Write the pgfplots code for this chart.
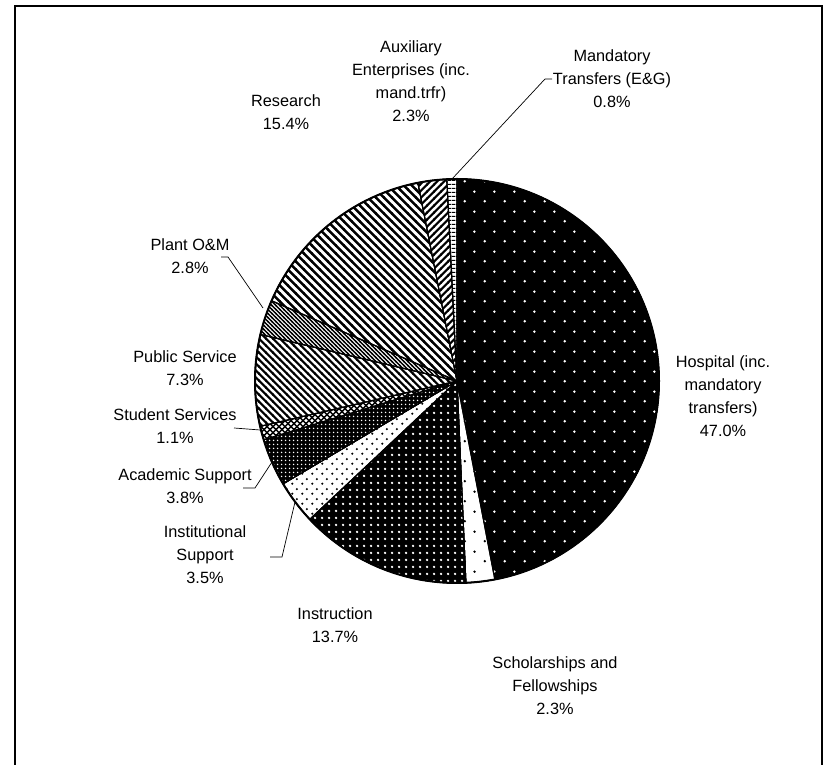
\documentclass[border=0pt]{standalone}
\usepackage{pgfplots}
\pgfplotsset{compat=1.18}
\usetikzlibrary{patterns}
\usepackage{fontspec}
\setmainfont{Liberation Sans}

% ---------- patterns ----------
\pgfdeclarepatternformonly{sparsedots}{\pgfqpoint{0bp}{0bp}}{\pgfqpoint{20bp}{20bp}}{\pgfqpoint{20bp}{20bp}}{%
 \pgfpathcircle{\pgfqpoint{5bp}{5bp}}{1.4bp}\pgfpathcircle{\pgfqpoint{15bp}{15bp}}{1.4bp}\pgfusepath{fill}}
\pgfdeclarepatternformonly{densedots}{\pgfqpoint{0bp}{0bp}}{\pgfqpoint{6.5bp}{6.5bp}}{\pgfqpoint{6.5bp}{6.5bp}}{%
 \pgfpathcircle{\pgfqpoint{3.25bp}{3.25bp}}{1.35bp}\pgfusepath{fill}}
\pgfdeclarepatternformonly{middots}{\pgfqpoint{0bp}{0bp}}{\pgfqpoint{10bp}{10bp}}{\pgfqpoint{10bp}{10bp}}{%
 \pgfpathcircle{\pgfqpoint{2.5bp}{2.5bp}}{1.3bp}\pgfpathcircle{\pgfqpoint{7.5bp}{7.5bp}}{1.3bp}\pgfusepath{fill}}
\pgfdeclarepatternformonly{finegrid}{\pgfqpoint{0bp}{0bp}}{\pgfqpoint{4bp}{4bp}}{\pgfqpoint{4bp}{4bp}}{%
 \pgfpathcircle{\pgfqpoint{2bp}{2bp}}{0.95bp}\pgfusepath{fill}}
\pgfdeclarepatternformonly{xhatch}{\pgfqpoint{-1bp}{-1bp}}{\pgfqpoint{7bp}{7bp}}{\pgfqpoint{6bp}{6bp}}{%
 \pgfsetlinewidth{1.4bp}\pgfpathmoveto{\pgfqpoint{-1bp}{-1bp}}\pgfpathlineto{\pgfqpoint{7bp}{7bp}}%
 \pgfpathmoveto{\pgfqpoint{-1bp}{7bp}}\pgfpathlineto{\pgfqpoint{7bp}{-1bp}}\pgfusepath{stroke}}
\pgfdeclarepatternformonly{nwwide}{\pgfqpoint{-1bp}{-1bp}}{\pgfqpoint{9bp}{9bp}}{\pgfqpoint{8bp}{8bp}}{%
 \pgfsetlinewidth{2.6bp}\pgfpathmoveto{\pgfqpoint{-1bp}{9bp}}\pgfpathlineto{\pgfqpoint{9bp}{-1bp}}\pgfusepath{stroke}}
\pgfdeclarepatternformonly{nwmed}{\pgfqpoint{-1bp}{-1bp}}{\pgfqpoint{8bp}{8bp}}{\pgfqpoint{7bp}{7bp}}{%
 \pgfsetlinewidth{2.2bp}\pgfpathmoveto{\pgfqpoint{-1bp}{8bp}}\pgfpathlineto{\pgfqpoint{8bp}{-1bp}}\pgfusepath{stroke}}
\pgfdeclarepatternformonly{nwfine}{\pgfqpoint{-1bp}{-1bp}}{\pgfqpoint{5bp}{5bp}}{\pgfqpoint{4bp}{4bp}}{%
 \pgfsetlinewidth{1.3bp}\pgfpathmoveto{\pgfqpoint{-1bp}{5bp}}\pgfpathlineto{\pgfqpoint{5bp}{-1bp}}\pgfusepath{stroke}}
\pgfdeclarepatternformonly{nelines}{\pgfqpoint{-1bp}{-1bp}}{\pgfqpoint{8bp}{8bp}}{\pgfqpoint{7bp}{7bp}}{%
 \pgfsetlinewidth{2.2bp}\pgfpathmoveto{\pgfqpoint{-1bp}{-1bp}}\pgfpathlineto{\pgfqpoint{8bp}{8bp}}\pgfusepath{stroke}}
\pgfdeclarepatternformonly{hdash}{\pgfqpoint{0bp}{0bp}}{\pgfqpoint{4bp}{4bp}}{\pgfqpoint{4bp}{4bp}}{%
 \pgfsetlinewidth{1.5bp}\pgfpathmoveto{\pgfqpoint{0bp}{2bp}}\pgfpathlineto{\pgfqpoint{4bp}{2bp}}\pgfusepath{stroke}}

% ---------- data: share of expenditure (%) ----------
\def\cum{0}
\foreach \p/\n in {47.0/hosp,2.3/schol,13.7/instr,3.5/inst,3.8/acad,1.1/stud,7.3/pub,2.8/plant,15.4/res,2.3/aux,0.8/mand}{%
  \pgfmathsetmacro\s{90-3.6*\cum}%
  \pgfmathsetmacro\e{90-3.6*(\cum+\p)}%
  \expandafter\xdef\csname S\n\endcsname{\s}%
  \expandafter\xdef\csname E\n\endcsname{\e}%
  \pgfmathsetmacro\c{\cum+\p}\xdef\cum{\c}%
}
\def\cx{457}\def\cy{384}\def\rr{202}
\newcommand\slice[2]{%
 \addplot[#2, draw=black, line width=1.1bp, no markers, domain=\csname E#1\endcsname:\csname S#1\endcsname, samples=90, variable=\t]
   ({\cx+\rr*cos(\t)},{\cy+\rr*sin(\t)}) -- (axis cs:\cx,\cy) -- cycle;}

\tikzset{lbl/.style={align=center, font=\fontsize{16.3bp}{23bp}\selectfont, inner sep=0pt},
 lead/.style={line width=0.7bp, black}}

\begin{document}
\begin{tikzpicture}
\begin{axis}[width=824bp,height=765bp,scale only axis,xmin=0,xmax=824,ymin=0,ymax=765,
  axis lines=none,clip=false]
\path (axis cs:0,0) rectangle (axis cs:824,765);
% frame
\draw[line width=1.3bp] (axis cs:15,0) -- (axis cs:15,759) -- (axis cs:822,759) -- (axis cs:822,0);
% slices
\slice{hosp}{fill=black, postaction={pattern=sparsedots, pattern color=white}}
\slice{schol}{fill=white, postaction={pattern=sparsedots, pattern color=black}}
\slice{instr}{fill=black, postaction={pattern=densedots, pattern color=white}}
\slice{inst}{fill=white, postaction={pattern=middots, pattern color=black}}
\slice{acad}{fill=black, postaction={pattern=finegrid, pattern color=white}}
\slice{stud}{fill=white, postaction={pattern=xhatch, pattern color=black}}
\slice{pub}{fill=white, postaction={pattern=nwmed, pattern color=black}}
\slice{plant}{fill=white, postaction={pattern=nwfine, pattern color=black}}
\slice{res}{fill=white, postaction={pattern=nwwide, pattern color=black}}
\slice{aux}{fill=white, postaction={pattern=nelines, pattern color=black}}
\slice{mand}{fill=white, postaction={pattern=hdash, pattern color=black}}
\draw[line width=2bp] (axis cs:\cx,\cy) circle[radius=\rr bp];
% labels
\node[lbl] at (axis cs:411,684) {Auxiliary\\Enterprises (inc.\\mand.trfr)\\2.3\%};
\node[lbl] at (axis cs:612,686) {Mandatory\\Transfers (E\&G)\\0.8\%};
\node[lbl] at (axis cs:286,652.5) {Research\\15.4\%};
\node[lbl] at (axis cs:190,508.5) {Plant O\&M\\2.8\%};
\node[lbl] at (axis cs:723,368.5) {Hospital (inc.\\mandatory\\transfers)\\47.0\%};
\node[lbl] at (axis cs:185,396.5) {Public Service\\7.3\%};
\node[lbl] at (axis cs:175,338.5) {Student Services\\1.1\%};
\node[lbl] at (axis cs:185,279) {Academic Support\\3.8\%};
\node[lbl] at (axis cs:205,210) {Institutional\\Support\\3.5\%};
\node[lbl] at (axis cs:335,139.5) {Instruction\\13.7\%};
\node[lbl] at (axis cs:555,79) {Scholarships and\\Fellowships\\2.3\%};
% leader lines
\draw[lead] (axis cs:552,686) -- (axis cs:545,686) -- (axis cs:452,586);
\draw[lead] (axis cs:221,508) -- (axis cs:228,508) -- (axis cs:263,457);
\draw[lead] (axis cs:234,337) -- (axis cs:260,335);
\draw[lead] (axis cs:243,277) -- (axis cs:255,277) -- (axis cs:272,303);
\draw[lead] (axis cs:270,208) -- (axis cs:282,208) -- (axis cs:295,263);
\end{axis}
\end{tikzpicture}
\end{document}
